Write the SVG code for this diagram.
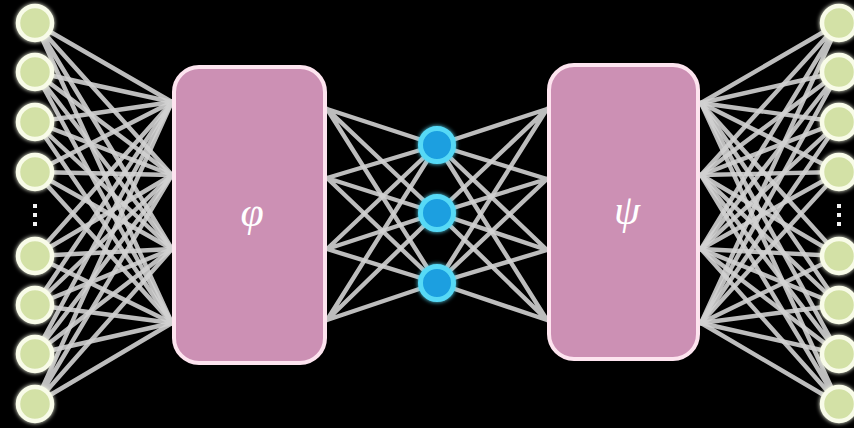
<svg xmlns="http://www.w3.org/2000/svg" width="854" height="428" viewBox="0 0 854 428">
  <style>
    .edge { stroke: #d2d2d2; stroke-width: 4.4; stroke-linecap: round; opacity: 0.9; }
    .box { fill: #cc90b4; stroke: #fde4ef; stroke-width: 4; }
    .io { fill: #d3e1a6; stroke: #f8fbe8; stroke-width: 4.5; filter: url(#glow); }
    .latent { fill: #1a9fe0; stroke: #56d9f6; stroke-width: 5; filter: url(#glow); }
    .dot { fill: #f2f2f2; }
    .sym { font-family: "Liberation Serif", "DejaVu Serif", serif; font-style: italic; font-size: 42px; fill: #ffffff; text-anchor: middle; }
  </style>
  <defs>
    <filter id="glow" x="-50%" y="-50%" width="200%" height="200%">
      <feGaussianBlur in="SourceGraphic" stdDeviation="2.2" result="b"/>
      <feMerge><feMergeNode in="b"/><feMergeNode in="SourceGraphic"/></feMerge>
    </filter>
  </defs>
  <rect width="854" height="428" fill="#000000"/>

  <!-- connectors: inputs -> encoder, encoder -> latent, latent -> decoder, decoder -> outputs -->
  <g id="connectors">
    <!-- inputs to encoder edge (x=172) at y 102,175,249,323 -->
    <g id="in-enc">
      <path class="edge" d="M35 23L172 102M35 23L172 175M35 23L172 249M35 23L172 323"/>
      <path class="edge" d="M35 72L172 102M35 72L172 175M35 72L172 249M35 72L172 323"/>
      <path class="edge" d="M35 122L172 102M35 122L172 175M35 122L172 249M35 122L172 323"/>
      <path class="edge" d="M35 172L172 102M35 172L172 175M35 172L172 249M35 172L172 323"/>
      <path class="edge" d="M35 256L172 102M35 256L172 175M35 256L172 249M35 256L172 323"/>
      <path class="edge" d="M35 305L172 102M35 305L172 175M35 305L172 249M35 305L172 323"/>
      <path class="edge" d="M35 354L172 102M35 354L172 175M35 354L172 249M35 354L172 323"/>
      <path class="edge" d="M35 404L172 102M35 404L172 175M35 404L172 249M35 404L172 323"/>
    </g>
    <!-- encoder to latent -->
    <g id="enc-lat">
      <path class="edge" d="M327 109L437 145M327 109L437 213M327 109L437 283"/>
      <path class="edge" d="M327 178L437 145M327 178L437 213M327 178L437 283"/>
      <path class="edge" d="M327 249L437 145M327 249L437 213M327 249L437 283"/>
      <path class="edge" d="M327 320L437 145M327 320L437 213M327 320L437 283"/>
    </g>
    <!-- latent to decoder -->
    <g id="lat-dec">
      <path class="edge" d="M437 145L547 109M437 213L547 109M437 283L547 109"/>
      <path class="edge" d="M437 145L547 179M437 213L547 179M437 283L547 179"/>
      <path class="edge" d="M437 145L547 250M437 213L547 250M437 283L547 250"/>
      <path class="edge" d="M437 145L547 320M437 213L547 320M437 283L547 320"/>
    </g>
    <!-- decoder edge (x=701) to outputs -->
    <g id="dec-out">
      <path class="edge" d="M701 103L839 23M701 175L839 23M701 249L839 23M701 323L839 23"/>
      <path class="edge" d="M701 103L839 72M701 175L839 72M701 249L839 72M701 323L839 72"/>
      <path class="edge" d="M701 103L839 122M701 175L839 122M701 249L839 122M701 323L839 122"/>
      <path class="edge" d="M701 103L839 172M701 175L839 172M701 249L839 172M701 323L839 172"/>
      <path class="edge" d="M701 103L839 256M701 175L839 256M701 249L839 256M701 323L839 256"/>
      <path class="edge" d="M701 103L839 305M701 175L839 305M701 249L839 305M701 323L839 305"/>
      <path class="edge" d="M701 103L839 354M701 175L839 354M701 249L839 354M701 323L839 354"/>
      <path class="edge" d="M701 103L839 404M701 175L839 404M701 249L839 404M701 323L839 404"/>
    </g>
  </g>

  <!-- encoder block -->
  <g id="encoder">
    <rect class="box" x="174" y="67" width="151" height="296" rx="25"/>
    <text class="sym" x="252" y="226">φ</text>
  </g>

  <!-- decoder block -->
  <g id="decoder">
    <rect class="box" x="549" y="65" width="149" height="294" rx="25"/>
    <text class="sym" x="627" y="224">ψ</text>
  </g>

  <!-- latent code -->
  <g id="z1"><circle class="latent" cx="437" cy="145" r="16.5"/></g>
  <g id="z2"><circle class="latent" cx="437" cy="213" r="16.5"/></g>
  <g id="z3"><circle class="latent" cx="437" cy="283" r="16.5"/></g>

  <!-- input layer -->
  <g id="x1"><circle class="io" cx="35" cy="23" r="17"/></g>
  <g id="x2"><circle class="io" cx="35" cy="72" r="17"/></g>
  <g id="x3"><circle class="io" cx="35" cy="122" r="17"/></g>
  <g id="x4"><circle class="io" cx="35" cy="172" r="17"/></g>
  <g id="x-dots">
    <rect class="dot" x="33" y="204" width="4" height="4"/>
    <rect class="dot" x="33" y="213" width="4" height="4"/>
    <rect class="dot" x="33" y="222" width="4" height="4"/>
  </g>
  <g id="x5"><circle class="io" cx="35" cy="256" r="17"/></g>
  <g id="x6"><circle class="io" cx="35" cy="305" r="17"/></g>
  <g id="x7"><circle class="io" cx="35" cy="354" r="17"/></g>
  <g id="x8"><circle class="io" cx="35" cy="404" r="17"/></g>

  <!-- output layer -->
  <g id="y1"><circle class="io" cx="839" cy="23" r="17"/></g>
  <g id="y2"><circle class="io" cx="839" cy="72" r="17"/></g>
  <g id="y3"><circle class="io" cx="839" cy="122" r="17"/></g>
  <g id="y4"><circle class="io" cx="839" cy="172" r="17"/></g>
  <g id="y-dots">
    <rect class="dot" x="837" y="204" width="4" height="4"/>
    <rect class="dot" x="837" y="213" width="4" height="4"/>
    <rect class="dot" x="837" y="222" width="4" height="4"/>
  </g>
  <g id="y5"><circle class="io" cx="839" cy="256" r="17"/></g>
  <g id="y6"><circle class="io" cx="839" cy="305" r="17"/></g>
  <g id="y7"><circle class="io" cx="839" cy="354" r="17"/></g>
  <g id="y8"><circle class="io" cx="839" cy="404" r="17"/></g>
</svg>
